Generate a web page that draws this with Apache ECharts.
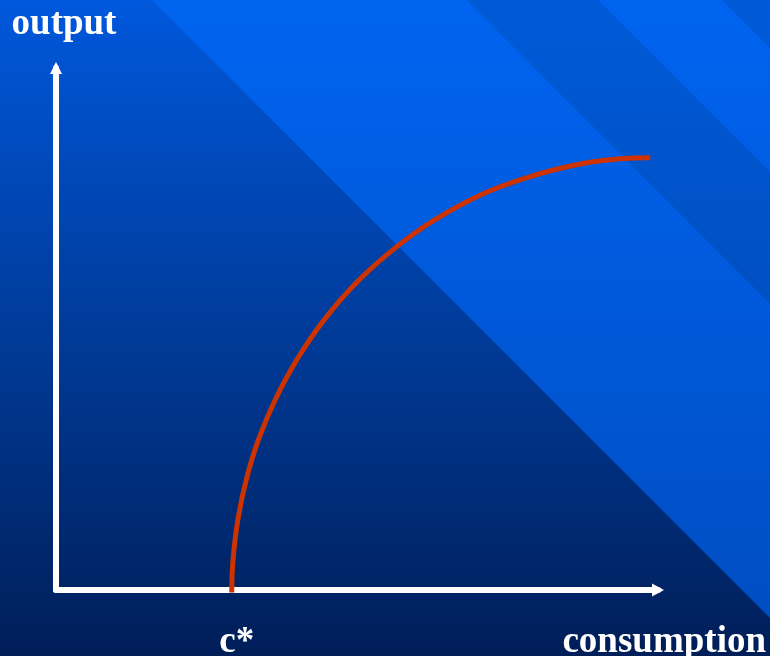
<!DOCTYPE html>
<html>
<head>
<meta charset="utf-8">
<script src="https://cdn.jsdelivr.net/npm/echarts@6/dist/echarts.min.js"></script>
<style>
  html, body { margin: 0; padding: 0; background: #003080; }
  #chart { width: 770px; height: 656px; }
</style>
</head>
<body>
<div id="chart"></div>
<script>
// ---- data ----
const consumption = [29.2, 29.4, 30.2, 31.6, 33.6, 36.4, 40.0, 44.5, 50.0, 56.3, 62.9, 71.3, 79.6, 87.9, 93.7, 98.3];
const output      = [0, 5.7, 13.4, 21.1, 28.7, 36.4, 44.1, 51.7, 59.0, 65.5, 70.9, 76.1, 79.5, 81.8, 82.6, 82.8];
const cStar = 29.2;
const tickLabels = ['c*'];
const axisNames = { x: 'consumption', y: 'output' };

// ---- decoration (background) ----
const W = 770, H = 656;
const FONT = "'Liberation Serif', 'Times New Roman', serif";
function grad(c0, c1) {
  return new echarts.graphic.LinearGradient(0, 0, 0, 1, [
    { offset: 0, color: c0 }, { offset: 1, color: c1 }
  ]);
}
function band(c1, c2, fill) {
  return {
    type: 'polygon', z: -100, silent: true,
    shape: { points: [[c1, 0], [c2, 0], [c2 + H, H], [c1 + H, H]] },
    style: { fill: fill }
  };
}
const lightBand = ['#0064f0', '#004cc0'];
const darkBand = ['#005ad8', '#0042a8'];
const bgElements = [
  { type: 'rect', z: -101, silent: true, shape: { x: 0, y: 0, width: W, height: H },
    style: { fill: grad('#0058dc', '#001e58') } },
  band(152, 467, grad(lightBand[0], lightBand[1])),
  band(467, 598, grad(darkBand[0], darkBand[1])),
  band(598, 722, grad(lightBand[0], lightBand[1])),
  band(722, 722 + 2 * W, grad(darkBand[0], darkBand[1]))
];

const chart = echarts.init(document.getElementById('chart'), null, { renderer: 'canvas' });
const textStyle = { color: '#ffffff', fontFamily: FONT, fontWeight: 'bold', fontSize: 37 };

chart.setOption({
  animation: false,
  backgroundColor: 'transparent',
  graphic: { elements: bgElements },
  grid: { left: 56, top: 68, width: 602, height: 522, containLabel: false, outerBoundsMode: 'none' },
  xAxis: {
    type: 'value', min: 0, max: 100,
    name: axisNames.x, nameLocation: 'end', nameGap: 108, nameMoveOverlap: false,
    nameTextStyle: Object.assign({}, textStyle, { align: 'right', verticalAlign: 'top', padding: [34, 0, 0, 0] }),
    axisLine: { show: true, onZero: false, symbol: ['none', 'triangle'], symbolSize: [13, 12],
      lineStyle: { color: '#ffffff', width: 6 } },
    axisTick: { show: false },
    splitLine: { show: false },
    axisLabel: Object.assign({}, textStyle, {
      show: true, customValues: [cStar], margin: 34, padding: [0, 0, 0, 10],
      formatter: function () { return tickLabels[0]; }
    })
  },
  yAxis: {
    type: 'value', min: 0, max: 100,
    name: axisNames.y, nameLocation: 'end', nameGap: 25, nameMoveOverlap: false,
    nameTextStyle: Object.assign({}, textStyle, { align: 'center', verticalAlign: 'bottom', padding: [0, 0, 0, 16] }),
    axisLine: { show: true, onZero: false, symbol: ['none', 'triangle'], symbolSize: [12, 12],
      lineStyle: { color: '#ffffff', width: 6 } },
    axisTick: { show: false },
    splitLine: { show: false },
    axisLabel: { show: false }
  },
  series: [{
    type: 'line',
    data: consumption.map((c, i) => [c, output[i]]),
    smooth: 0.4,
    showSymbol: false,
    symbol: 'none',
    clip: false,
    lineStyle: { color: '#cc3300', width: 5, cap: 'square' }
  }]
});
</script>
</body>
</html>
